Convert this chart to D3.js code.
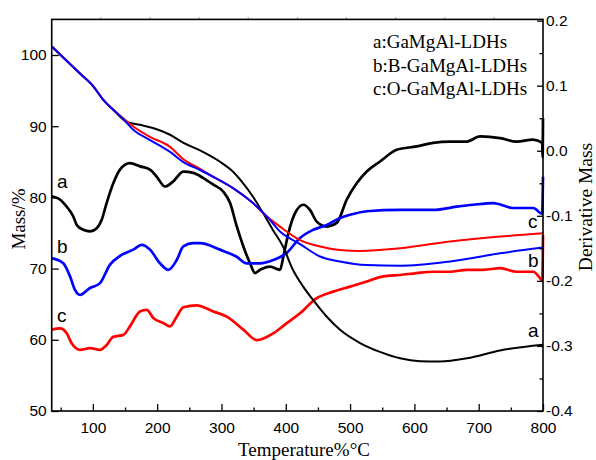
<!DOCTYPE html>
<html>
<head>
<meta charset="utf-8">
<script src="https://cdn.jsdelivr.net/npm/d3@7"></script>
<style>
  body { margin: 0; background: #fff; }
  .tick text { font-family: "Liberation Sans", Arial, sans-serif; font-size: 15.5px; fill: #000; }
  .serif { font-family: "Liberation Serif", "Times New Roman", serif; font-size: 19px; }
  .lab { font-family: "Liberation Sans", Arial, sans-serif; font-size: 19px; }
</style>
</head>
<body>
<div id="chart"></div>
<script>
// TG curves: [temperature, mass %]
var tgA = [[36,101.2],[80,97.4],[100.7,95.6],[116.2,93.7],[131.8,92.3],[152.6,90.6],[173.3,90.2],[193.5,89.75],
  [220,88.8],[240.2,87.7],[266.6,86.6],[297.7,85.0],[318,83.6],[333.5,82.0],[349,80.1],[364.6,77.8],[380.2,75.4],
  [395.7,73.1],[411.3,69.8],[426.8,67.5],[442.4,65.6],[464.2,63.2],[484.4,61.4],[515.5,59.55],[546.6,58.3],
  [577.7,57.4],[608.8,57.0],[639.9,56.95],[681.9,57.4],[733.2,58.5],[800,59.3]]
var tgB = [[36,101.2],[80,97.4],[100.7,95.6],[116.2,93.7],[131.8,92.3],[147.4,91.0],[162.9,89.5],[188.9,88.05],
  [220,86.4],[240.2,85.0],[266.6,83.85],[286.9,82.9],[318,81.3],[349,79.2],[370.8,77.3],[391,75.2],[422.2,73.45],
  [453.3,71.7],[484.4,71.0],[525.9,70.5],[577.7,70.4],[655.4,71.0],[733.2,72.15],[800,72.95]]
var tgC = [[36,101.2],[80,97.4],[100.7,95.6],[116.2,93.7],[131.8,92.3],[147.4,91.1],[162.9,89.95],[188.9,88.5],
  [220,87.1],[240.2,85.4],[266.6,84.0],[286.9,82.9],[318,81.3],[349,79.2],[370.8,77.3],[391,75.9],[422.2,74.0],
  [453.3,73.1],[484.4,72.6],[515.5,72.47],[577.7,72.85],[655.4,73.8],[733.2,74.5],[800,74.95]]

// DTG curves: [temperature, derivative mass]
var dtgA = [[36,-0.070],[48.9,-0.075],[59.3,-0.086],[69.6,-0.101],[74.9,-0.114],[85.1,-0.1215],[95.6,-0.124],
  [106,-0.119],[113.8,-0.106],[121.5,-0.080],[131.8,-0.050],[142.2,-0.029],[157.7,-0.019],[173.3,-0.024],
  [188.9,-0.029],[199.3,-0.040],[212.2,-0.055],[225.1,-0.047],[240.7,-0.032],[256.2,-0.034],[271.8,-0.042],
  [287.3,-0.052],[302.9,-0.063],[313.3,-0.080],[323.7,-0.116],[334,-0.147],[344.4,-0.173],[352.2,-0.188],
  [360,-0.183],[375.5,-0.178],[391,-0.183],[396.2,-0.163],[404,-0.127],[414.4,-0.096],[427.3,-0.083],
  [437.7,-0.091],[448.1,-0.109],[463.7,-0.1165],[479.2,-0.111],[494.8,-0.075],[510.3,-0.050],[525.9,-0.032],
  [546.6,-0.0165],[572.5,0.0015],[603.6,0.0066],[629,0.012],[655.4,0.014],[681.4,0.014],[702,0.022],
  [733.2,0.0195],[759.2,0.014],[784.4,0.017],[798.8,0.012],[799.4,-0.01],[800,0.05]]
var dtgB = [[36,-0.165],[54,-0.173],[64.5,-0.193],[72.2,-0.214],[80,-0.2215],[95.6,-0.211],[111.1,-0.2035],
  [126.7,-0.175],[142.2,-0.1615],[162.9,-0.152],[176,-0.1446],[188.9,-0.152],[204.4,-0.173],[217.3,-0.183],
  [230.4,-0.168],[240.7,-0.147],[256.2,-0.142],[266.6,-0.142],[297.7,-0.152],[323.7,-0.163],[339.3,-0.173],
  [360,-0.173],[380.6,-0.168],[401.5,-0.157],[422.2,-0.134],[442.8,-0.1215],[463.7,-0.114],[484.4,-0.1035],
  [499.9,-0.0985],[525.9,-0.093],[577.7,-0.091],[629.5,-0.091],[665.9,-0.086],[691.7,-0.083],[722.8,-0.0805],
  [753.9,-0.088],[785,-0.088],[798.6,-0.097],[800,-0.04]]
var dtgC = [[36,-0.275],[48.9,-0.273],[59.3,-0.2805],[67.1,-0.296],[80,-0.306],[95.6,-0.3035],[111.1,-0.306],
  [121.5,-0.2985],[131.8,-0.286],[147.4,-0.283],[157.7,-0.270],[173.3,-0.247],[183.7,-0.2446],[194,-0.257],
  [209.6,-0.265],[220,-0.270],[230.4,-0.255],[240.7,-0.2405],[261.5,-0.2377],[287.3,-0.247],[308.2,-0.255],
  [334,-0.275],[354.8,-0.291],[380.6,-0.2805],[401.5,-0.265],[422.2,-0.2497],[448.1,-0.2266],[473.9,-0.2165],
  [499.9,-0.2088],[525.9,-0.201],[551.7,-0.193],[577.7,-0.191],[603.6,-0.188],[629.5,-0.186],[655.4,-0.186],
  [681.4,-0.183],[707.2,-0.183],[733.2,-0.1805],[759.2,-0.186],[785,-0.186],[795.4,-0.196],[798.8,-0.2],[800,-0.13]]

var xTicks = [100, 200, 300, 400, 500, 600, 700, 800]
var leftTicks = [50, 60, 70, 80, 90, 100]
var rightTicks = [-0.4, -0.3, -0.2, -0.1, 0.0, 0.1, 0.2]
var legendLines = ["a:GaMgAl-LDHs", "b:B-GaMgAl-LDHs", "c:O-GaMgAl-LDHs"]

var W = 596, H = 460
var pL = 51.7, pR = 543, pT = 19.4, pB = 411

var svg = d3.select("#chart").append("svg").attr("width", W).attr("height", H)

var xs = d3.scaleLinear().domain([36, 800]).range([pL, pR])
var yl = d3.scaleLinear().domain([50, 105]).range([pB, pT])
var yr = d3.scaleLinear().domain([-0.4, 0.2]).range([pB, 20.6])

// faint ticks on the top edge
var topScale = d3.scaleLinear().domain([0, 10]).range([pL, pR])
svg.append("g").selectAll("line").data(d3.range(1, 10)).enter().append("line")
  .attr("x1", d => topScale(d)).attr("x2", d => topScale(d))
  .attr("y1", pT).attr("y2", pT - 2.5)
  .attr("stroke", "#aaa").attr("stroke-width", 1)

// curves
function drawLine(data, y, color, w) {
  var line = d3.line().x(d => xs(d[0])).y(d => y(d[1])).curve(d3.curveMonotoneX)
  svg.append("path").datum(data).attr("d", line)
    .attr("fill", "none").attr("stroke", color).attr("stroke-width", w)
    .attr("stroke-linejoin", "round")
}
drawLine(dtgA, yr, "#000", 2.7)
drawLine(dtgB, yr, "#0000ff", 2.7)
drawLine(dtgC, yr, "#ff0000", 2.7)
drawLine(tgA, yl, "#000", 2)
drawLine(tgC, yl, "#ff0000", 2)
drawLine(tgB, yl, "#0000ff", 2)

// axes
var xAxis = svg.append("g").attr("transform", "translate(0," + pB + ")")
  .call(d3.axisBottom(xs).tickValues(xTicks).tickSizeInner(-7).tickSizeOuter(0).tickPadding(13))
var xMinor = svg.append("g").attr("transform", "translate(0," + pB + ")")
  .call(d3.axisBottom(xs).tickValues(d3.range(50, 800, 100)).tickSizeInner(-3.5).tickSizeOuter(0).tickFormat(""))
var yAxisL = svg.append("g").attr("transform", "translate(" + pL + ",0)")
  .call(d3.axisLeft(yl).tickValues(leftTicks).tickSizeInner(-7).tickSizeOuter(0).tickPadding(12))
var yAxisR = svg.append("g").attr("transform", "translate(" + pR + ",0)")
  .call(d3.axisRight(yr).tickValues(rightTicks).tickSizeInner(-6).tickSizeOuter(0).tickPadding(9)
    .tickFormat(d => d.toFixed(1)))
var yMinorR = svg.append("g").attr("transform", "translate(" + pR + ",0)")
  .call(d3.axisRight(yr).tickValues([-0.35, -0.25, -0.15, -0.05, 0.05, 0.15]).tickSizeInner(-3.5).tickSizeOuter(0).tickFormat(""))

svg.selectAll(".domain").remove()
svg.selectAll(".tick line").attr("stroke", "#000").attr("stroke-width", 1.3)
yAxisR.selectAll(".tick text").attr("x", 3)
xAxis.selectAll(".tick text").attr("y", 11)
yAxisL.selectAll(".tick text").attr("x", -5)

// frame
svg.append("rect").attr("x", pL).attr("y", pT).attr("width", pR - pL).attr("height", pB - pT)
  .attr("fill", "none").attr("stroke", "#000").attr("stroke-width", 1.6)

// titles
svg.append("text").attr("class", "serif").attr("text-anchor", "middle")
  .attr("transform", "translate(25,219) rotate(-90)").text("Mass/%")
svg.append("text").attr("class", "serif").attr("text-anchor", "middle").style("font-size", "19.5px")
  .attr("transform", "translate(592,207) rotate(-90)").text("Derivative Mass")
svg.append("text").attr("class", "serif").attr("text-anchor", "middle")
  .attr("x", 304).attr("y", 456).text("Temperature%°C")

// legend text
svg.append("g").selectAll("text").data(legendLines).enter().append("text")
  .attr("class", "serif").attr("x", 373).attr("y", (d, i) => 48 + i * 23.5).text(d => d)

// curve labels
var curveLabels = [["a", 57, 188], ["b", 57, 253], ["c", 57, 322], ["c", 528, 228], ["b", 528, 267], ["a", 528, 337]]
svg.append("g").selectAll("text").data(curveLabels).enter().append("text")
  .attr("class", "lab").attr("x", d => d[1]).attr("y", d => d[2]).text(d => d[0])
</script>
</body>
</html>
